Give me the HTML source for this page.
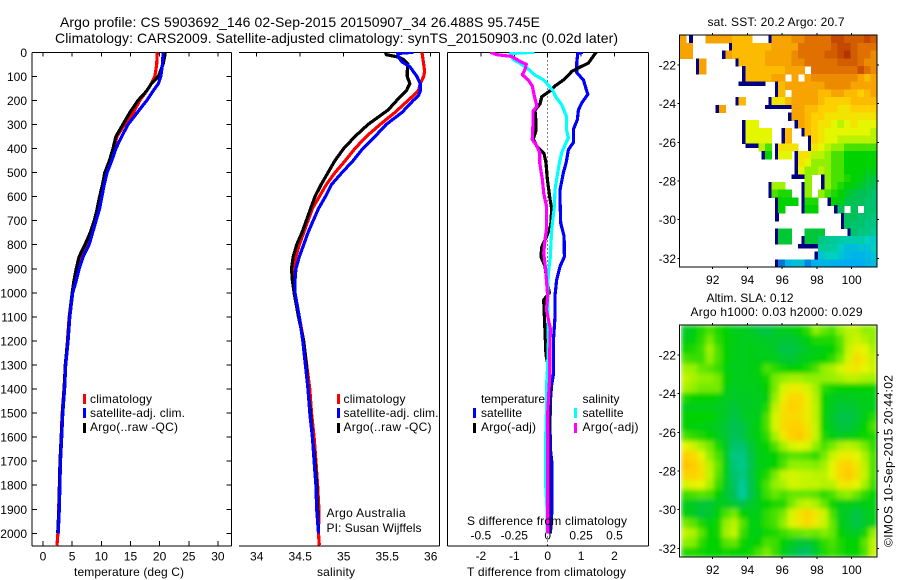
<!DOCTYPE html>
<html lang="en">
<head>
<meta charset="utf-8">
<title>Argo profile</title>
<style>
html,body{margin:0;padding:0;background:#fff;}
svg{display:block;}
text{font-family:"Liberation Sans",Arial,sans-serif;font-size:12px;fill:#000;}
.t14{font-size:14px;}
</style>
</head>
<body>
<svg id="fig" xmlns="http://www.w3.org/2000/svg" width="900" height="580" viewBox="0 0 900 580">
  <rect x="0" y="0" width="900" height="580" fill="#fff"/>
  <defs>
    <filter id="slaBlur" filterUnits="userSpaceOnUse" x="681" y="325" width="196" height="232">
      <feGaussianBlur stdDeviation="2.4" edgeMode="duplicate"/>
    </filter>
    <clipPath id="slaClip"><rect x="681" y="325" width="196" height="232"/></clipPath>
    <clipPath id="p1Clip"><rect x="32" y="52" width="200" height="494"/></clipPath>
    <clipPath id="p2Clip"><rect x="239" y="52" width="201" height="494"/></clipPath>
    <clipPath id="p3Clip"><rect x="447" y="52" width="202" height="494"/></clipPath>
  </defs>

  <text class="t14" x="60" y="27" textLength="480" lengthAdjust="spacing">Argo profile: CS 5903692_146 02-Sep-2015 20150907_34 26.488S 95.745E</text>
  <text class="t14" x="55" y="43" textLength="563" lengthAdjust="spacing">Climatology: CARS2009. Satellite-adjusted climatology: synTS_20150903.nc (0.02d later)</text>

  <g id="maps"></g>
  <g id="panels"></g>

  <text x="74" y="576" textLength="110" lengthAdjust="spacing">temperature (deg C)</text>
  <text x="317" y="576" textLength="38" lengthAdjust="spacing">salinity</text>
  <text x="467" y="576" textLength="159" lengthAdjust="spacing">T difference from climatology</text>
  <text x="467" y="525" textLength="160" lengthAdjust="spacing">S difference from climatology</text>

  <g>
    <rect x="83" y="394" width="3" height="10" fill="#f00"/>
    <text x="90" y="403" textLength="62" lengthAdjust="spacing">climatology</text>
    <rect x="83" y="408" width="3" height="10" fill="#00f"/>
    <text x="90" y="417" textLength="95" lengthAdjust="spacing">satellite-adj. clim.</text>
    <rect x="83" y="423" width="3" height="10" fill="#000"/>
    <text x="90" y="431" textLength="88" lengthAdjust="spacing">Argo(..raw -QC)</text>
  </g>
  <g>
    <rect x="337" y="394" width="3" height="10" fill="#f00"/>
    <text x="343.5" y="403" textLength="62" lengthAdjust="spacing">climatology</text>
    <rect x="337" y="408" width="3" height="10" fill="#00f"/>
    <text x="343.5" y="417" textLength="95" lengthAdjust="spacing">satellite-adj. clim.</text>
    <rect x="337" y="423" width="3" height="10" fill="#000"/>
    <text x="343.5" y="431" textLength="88" lengthAdjust="spacing">Argo(..raw -QC)</text>
  </g>
  <text x="326.5" y="517" textLength="79" lengthAdjust="spacing">Argo Australia</text>
  <text x="326.5" y="532" textLength="95" lengthAdjust="spacing">PI: Susan Wijffels</text>

  <g>
    <text x="481" y="403" textLength="64" lengthAdjust="spacing">temperature</text>
    <rect x="473" y="408" width="3" height="10" fill="#00f"/>
    <text x="481" y="417" textLength="41" lengthAdjust="spacing">satellite</text>
    <rect x="473" y="423" width="3" height="10" fill="#000"/>
    <text x="481" y="431" textLength="55" lengthAdjust="spacing">Argo(-adj)</text>
    <text x="582.5" y="403" textLength="37" lengthAdjust="spacing">salinity</text>
    <rect x="574" y="408" width="3" height="10" fill="#0ff"/>
    <text x="582.5" y="417" textLength="41" lengthAdjust="spacing">satellite</text>
    <rect x="574" y="423" width="3" height="10" fill="#f0f"/>
    <text x="582.5" y="431" textLength="56" lengthAdjust="spacing">Argo(-adj)</text>
  </g>

  <text x="707.5" y="26" textLength="137" lengthAdjust="spacing">sat. SST: 20.2 Argo: 20.7</text>
  <text x="706.5" y="302" textLength="87" lengthAdjust="spacing">Altim. SLA: 0.12</text>
  <text x="690.5" y="316" textLength="172" lengthAdjust="spacing">Argo h1000: 0.03 h2000: 0.029</text>
  <text transform="translate(892.5,547) rotate(-90)" x="0" y="0" textLength="172" lengthAdjust="spacing">©IMOS 10-Sep-2015 20:44:02</text>
</svg>

<script>
/* ---------- axis tick values ---------- */
const depthTicks = [0,100,200,300,400,500,600,700,800,900,1000,1100,1200,1300,1400,1500,1600,1700,1800,1900,2000];
const tempTicks = [0,5,10,15,20,25,30];
const salTicks = [34,34.5,35,35.5,36];
const tDiffTicks = [-2,-1,0,1,2];
const sDiffTicks = [-0.5,-0.25,0,0.25,0.5];
const sDiffTickLabels = ['-0.5','-0.25','0','0.25','0.5'];
const lonTicks = [92,94,96,98,100];
const latTicks = [-22,-24,-26,-28,-30,-32];

/* ---------- temperature profiles ---------- */
const tempDepths = [0,50,100,130,160,200,250,300,350,400,450,500,550,600,650,700,750,800,850,900,950,1000,1100,1200,1300,1400,1500,1600,1700,1800,1900,2000,2050];
const tempClim = [19.6,19.5,19.2,18.6,17.8,16.6,15.5,14,12.7,12.2,11.5,10.8,10.3,9.8,9.5,8.9,8.3,7.6,6.6,5.9,5.4,5,4.5,4.2,3.85,3.6,3.3,3.12,2.92,2.82,2.7,2.55,2.4];
const tempArgo = [21,20.6,19.8,18.6,17.8,16.3,14.9,13.7,12.5,12,11.4,10.6,10.2,9.7,9.3,8.8,8.1,7.2,6.2,5.7,5.3,5,4.52,4.22,3.82,3.62,3.32,3.12,2.92,2.82,2.72,2.52];
const tempSat = [20.6,20.5,20.2,19.8,18.9,17.8,16.2,14.6,13.5,12.5,11.8,11,10.5,10.1,9.7,9.1,8.5,7.9,6.9,6.2,5.7,5.1,4.6,4.3,3.9,3.7,3.4,3.2,3,2.9,2.8,2.6];

/* ---------- salinity profiles ---------- */
const salClimDepths = [0,50,80,100,130,160,200,250,300,350,400,450,500,550,600,650,700,750,800,850,900,950,1000,1100,1200,1300,1400,1500,1600,1700,1800,1900,2000,2050];
const salClim = [35.9,35.92,35.93,35.92,35.88,35.86,35.74,35.59,35.42,35.26,35.13,35.02,34.9,34.8,34.72,34.64,34.59,34.54,34.49,34.45,34.43,34.43,34.44,34.49,34.54,34.575,34.61,34.63,34.66,34.68,34.7,34.715,34.71,34.72];
const salArgoDepths = [0,10,20,30,50,80,100,130,160,200,240,300,350,400,450,500,550,600,650,700,750,800,850,900,950,1000,1100,1200,1300,1400,1500,1600,1700,1800,1900,2000];
const salArgo = [35.48,35.49,35.63,35.69,35.74,35.73,35.73,35.76,35.72,35.61,35.51,35.28,35.13,35,34.9,34.82,34.74,34.67,34.62,34.57,34.52,34.46,34.42,34.4,34.41,34.43,34.48,34.54,34.57,34.59,34.62,34.64,34.67,34.69,34.7,34.71];
const salSatDepths = [0,5,20,40,60,80,100,130,160,180,200,250,300,350,400,450,500,550,600,650,700,750,800,850,900,950,1000,1100,1200,1300,1400,1500,1600,1700,1800,1900,2000];
const salSat = [35.8,35.62,35.63,35.67,35.76,35.8,35.84,35.88,35.88,35.86,35.8,35.67,35.49,35.36,35.22,35.11,34.98,34.86,34.79,34.71,34.65,34.59,34.54,34.49,34.45,34.44,34.44,34.49,34.53,34.56,34.59,34.61,34.64,34.66,34.68,34.69,34.71];

/* ---------- difference profiles ---------- */
const tDiffSatDepths = [0,5,40,85,115,175,210,240,280,320,375,405,460,500,570,625,710,765,850,890,945,1010,1100,1200,1280,1340,1380,1450,1550,1650,1700,1800,1900,2000];
const tDiffSat = [1.05,0.9,0.87,0.87,1.07,1.2,1.02,0.92,0.89,0.77,0.77,0.62,0.55,0.47,0.37,0.37,0.39,0.49,0.5,0.37,0.27,0.22,0.22,0.17,0.17,0.17,0.12,0.08,0.07,0.08,0.12,0.13,0.13,0.08];
const tDiffArgoDepths = [0,15,45,65,80,95,115,140,155,185,215,240,290,330,360,390,420,460,530,610,650,720,765,810,850,890,945,1000,1030,1100,1200,1260,1340,1400,1500,1700,1900,2000];
const tDiffArgo = [1.45,1.37,1.22,0.92,0.72,0.62,0.47,0.22,0.12,-0.18,-0.23,-0.38,-0.35,-0.36,-0.43,-0.33,-0.11,-0.05,-0.01,0.07,0.12,0.09,-0.03,-0.18,-0.2,-0.08,-0.03,0.05,-0.12,-0.1,-0.07,-0.05,0.07,0.06,0.05,0.03,0.04,0.05];
const sDiffSatDepths = [0,5,30,45,70,95,115,140,160,185,218,266,321,356,384,418,460,516,570,640,737,790,848,917,987,1070,1200,1300,1400,1500,1600,1700,1800,1900,2000];
const sDiffSat = [-0.1,-0.28,-0.26,-0.21,-0.145,-0.095,-0.03,0.01,0.04,0.06,0.105,0.14,0.14,0.155,0.13,0.105,0.0875,0.07,0.055,0.05,0.03,0.025,0.02,0.005,0,0,0.005,0,-0.01,-0.01,-0.015,-0.015,-0.015,-0.005,-0.005];
const sDiffArgoDepths = [0,10,17,37,50,72,93,115,140,182,225,245,295,363,390,418,460,530,585,640,737,780,835,905,945,1015,1070,1150,1250,1350,1500,1600,1750,1900,2000];
const sDiffArgo = [-0.43,-0.38,-0.27,-0.21,-0.16,-0.17,-0.19,-0.145,-0.115,-0.1,-0.08,-0.11,-0.11,-0.115,-0.08,-0.06,-0.06,-0.04,-0.03,-0.01,-0.01,-0.02,-0.03,-0.015,-0.01,0,-0.01,0.02,0.015,0.015,0,0,0,0,0];

/* ---------- map grids (colour-scale levels, null = no data, 0 = navy edge) ---------- */
const _ = null;
const sstGrid = [
[8,0,_,_,8,8,8,8,7.5,7.5,7.5,_,_,0,8,8,8,8.5,8.5,9,9,9,9,10,10,9.5,9.5,9.5,10,9.5],
[8,8,_,_,_,_,_,0,7.5,7.5,7.5,7.5,7.5,7.5,8,8,8,8,9,9,9,9,9,9.5,10,10,9.5,9,9,9],
[8,8,_,_,_,_,0,8,7.5,7.5,7.5,7.5,7.5,8,8,8,8,8.5,9,9,9,9,9.5,9.5,10,10.5,9.5,9,9,8.5],
[_,_,0,8,_,_,_,_,0,7.5,7.5,7.5,7.5,8,8,8,8,8.5,8.5,9,9,9,9,9,9.5,9.5,9.5,9,8.5,8.5],
[_,_,0,8,_,_,_,_,_,0,7.5,7.5,7.5,7.5,7.5,7.5,8,8,8,_,9,9,9,9,9,9,9,9.8,9,8.5],
[_,_,_,_,_,_,_,_,_,0,7.5,7.5,7.5,7.5,8,8,_,8,_,8,8.5,8.5,8.5,8.5,8.5,8.5,8.5,8,7.5,8],
[_,_,_,_,_,_,_,_,_,0,0,0,0,_,0,7.5,8,8,8,8,8,8,8.5,8.5,8.5,8.5,8,8,8,8],
[_,_,_,_,_,_,_,_,_,_,_,_,_,_,0,7.5,_,8,8,8,8,7.5,7.5,8,8,7.5,7.5,7,7.5,8],
[_,_,_,_,_,_,_,_,0,7.5,_,_,_,0,6.5,6.5,7.5,8,8,8,8,7.5,7,7,7,7,7.5,7.5,7.5,7.5],
[_,_,_,_,_,0,8,_,_,_,_,_,_,0,0,0,0,8,8,7.5,7.5,7,7,7,6.5,6.5,7,7,7,7],
[_,_,_,_,_,_,_,_,_,_,_,_,_,_,_,_,0,8,8,7.5,7,7,6.5,6.5,6.5,6.5,6.5,6.5,6.5,6.5],
[_,_,_,_,_,_,_,_,_,0,6,6,_,_,_,_,_,0,8,7.5,7,6.5,6.5,6,5.5,6,6.5,6,6,6],
[_,_,_,_,_,_,_,_,_,0,6,6,6,6,_,0,7.5,_,0,7.5,7,6.5,6,6,6,6,6,6,6,5.5],
[_,_,_,_,_,_,_,_,_,0,6,6,6,6,_,0,7.5,_,_,0,7,6.5,6,6,5.5,5.5,5.5,5.5,5.5,5.5],
[_,_,_,_,_,_,_,_,_,_,0,0,5.5,4.5,0,6.5,6.5,6.5,_,0,6.5,6,5.5,5,5,4.5,4.5,4.5,4.5,4.5],
[_,_,_,_,_,_,_,_,_,_,_,_,0,4,0,6,6,0,6.5,6.5,5.5,5.5,5,4.5,4.5,4,4,4,4,4],
[_,_,_,_,_,_,_,_,_,_,_,_,_,_,_,_,_,0,6.5,6,5,5,5,4.5,4.5,4,4,4,4,4],
[_,_,_,_,_,_,_,_,_,_,_,_,_,_,_,_,_,0,6,5,5,5.5,5,4.5,4.5,4,4,4,3.8,3.8],
[_,_,_,_,_,_,_,_,_,_,_,_,_,_,_,_,_,0,0,5,_,0,5,4.5,4.5,4.2,4,3.8,3.5,3.3],
[_,_,_,_,_,_,_,_,_,_,_,_,_,0,5.2,5.2,_,_,0,5,_,0,5,4.5,4.2,4,3.8,3.5,3.2,3],
[_,_,_,_,_,_,_,_,_,_,_,_,_,0,4.5,4.2,4.2,_,0,5,_,5,4.5,4.2,4,3.5,3.2,3,3,2.8],
[_,_,_,_,_,_,_,_,_,_,_,_,_,_,0,4,4,4,0,4.2,4.2,_,0,4,3.8,3.2,3,3,2.8,2.8],
[_,_,_,_,_,_,_,_,_,_,_,_,_,_,0,4,_,_,0,4,4,_,_,0,3,_,3,_,2.8,2.8],
[_,_,_,_,_,_,_,_,_,_,_,_,_,_,0,_,_,_,_,_,_,_,_,_,0,3,3,2.8,2.8,2.6],
[_,_,_,_,_,_,_,_,_,_,_,_,_,_,_,_,_,_,_,_,_,_,_,_,0,3,2.8,2.8,2.6,2.6],
[_,_,_,_,_,_,_,_,_,_,_,_,_,_,0,3.4,3.4,_,_,3.4,3.4,3.4,_,_,_,0,2.8,2.6,2.6,2.4],
[_,_,_,_,_,_,_,_,_,_,_,_,_,_,0,3.4,3.4,_,0,3.4,3.4,2.6,2.5,2.4,2.3,2.2,2.2,2.2,2,1.8],
[_,_,_,_,_,_,_,_,_,_,_,_,_,_,_,_,_,_,0,0,0,2.4,2.4,2.3,1.9,1.5,1.5,1.7,1.6,2],
[_,_,_,_,_,_,_,_,_,_,_,_,_,_,_,_,_,_,_,_,0,1.7,2,2,1.7,1.4,1.3,1.3,1.4,1.7],
[_,_,_,_,_,_,_,_,_,_,_,_,_,_,0,0.7,1.3,1.6,1.6,0.8,1.2,1.3,1.3,1.2,1.2,1.1,1.1,1.1,1.3,1.5]
];
const slaGrid = [
[3.6,3.8,4.2,4.5,4.2,4,3.7,3.7,3.6,3.3,3.2,3.5,3.7,3.8,4,4.3,5,4.7,4.5,5,5.5,5.5,5,5],
[3.8,3.9,4.3,4.8,4.3,4,3.8,3.7,3.7,3.6,3.5,3.5,3.4,3.4,3.6,3.9,4.2,4.2,4.2,4.6,5.4,5.7,5.4,5],
[4.1,4.2,4.4,5.2,4.5,4,3.8,3.7,3.8,3.7,3.7,3.5,3.2,3.2,3.4,3.6,3.8,3.9,4,4.5,5.6,6.2,6,5.3],
[4.5,4.4,4.4,5,4.5,4,3.8,3.7,3.8,3.8,3.8,3.7,3.5,3.4,3.6,3.8,3.9,4,4.3,4.8,5.8,6.7,6.3,5.6],
[5.2,5.1,4.7,4.6,4.4,3.9,3.7,3.7,3.8,3.9,4.5,4.3,4.1,4,4,4.2,4.5,5,5.3,5.8,6.2,6.4,6,5.7],
[5.6,5.3,5,5,4.8,4,3.7,3.7,3.8,3.9,4.1,4.8,5,5.2,5.2,5,5,5,5.1,5.3,5.5,5.5,5.3,5.2],
[5.3,5,4.8,4.8,4.8,3.9,3.6,3.7,3.7,3.8,4,4.8,5.8,6.3,6.2,5.8,5.2,4.3,4.1,4,4,4,4,4],
[4.2,4,4,4,3.9,3.7,3.5,3.6,3.6,3.7,3.8,5,6.2,6.8,6.8,6.2,5.4,4,3.7,3.6,3.6,3.7,3.8,3.8],
[3.8,3.8,3.8,3.8,3.7,3.5,3.4,3.5,3.6,3.7,4.2,5.5,6.5,7,6.8,6.3,5.5,4,3.6,3.4,3.4,3.5,3.7,3.8],
[4,4,4,4,3.8,3.5,3.2,3.5,3.7,3.8,4.5,5.8,6.6,6.8,6.7,6.3,5.5,4,3.5,3.2,3.2,3.4,3.8,4.2],
[4,3.9,3.9,3.8,3.6,3.4,3,3.2,3.6,3.9,4.5,5.8,6.7,7,7,6.5,5.6,4,3.6,3.3,3.3,3.6,4,4.5],
[4.5,4.3,4.2,4,3.7,3.4,3,3.2,3.6,3.9,4.3,5.2,6.3,7,7.2,6.6,5.6,4.2,3.8,3.7,3.8,3.9,4.1,4.2],
[6,5.7,5.2,4.8,4.2,3.6,2.8,2.8,3.4,3.8,4,4.5,5.2,5.8,6,5.8,5,4.5,4.8,5.3,5.5,5.3,4.8,4.3],
[7,6.8,6,5,4.5,3.7,2.6,2.6,3.2,3.8,3.9,4,4.4,4.6,4.6,4.5,4.3,4.8,5.6,6.2,6.3,6,5.3,4.5],
[7.3,7.1,6.5,5.5,4.7,3.8,2.7,2.5,3.2,3.8,3.9,4,4.5,5,5,5,4.9,5.2,6,6.8,7,6.4,5.5,4.5],
[6.9,7,6.6,5.6,4.6,3.7,2.8,2.6,3.2,3.9,4.2,4.8,5.6,5.8,5.7,5.6,5.5,5.5,6,6.8,7.2,6.6,5.6,4.5],
[5.8,6.1,6,5.3,4.4,3.6,2.9,2.4,3.1,3.9,4.5,5,5.3,5.8,5.7,5.6,5.6,5.4,5.5,6.3,6.4,6,5.2,4.4],
[4.4,4.5,4.6,4.5,4,3.5,3,2.3,3.1,3.8,4.4,4.7,4.5,4.7,4.7,4.7,4.6,4.3,4.5,4.9,5,4.7,4.3,4],
[3.8,3.6,3.4,3.4,3.7,3.6,3.4,3.2,3.5,3.8,4,4.2,4.2,4.8,5.4,5.6,5.3,4.7,4.1,3.8,3.8,3.7,3.8,3.9],
[3.9,3.6,3.3,3.5,3.9,4.5,4.8,4,3.8,3.8,4.3,4.5,4.8,5.8,6.5,6.9,6.4,5.7,4.5,3.7,3.5,3.2,3.5,3.8],
[4.8,4.6,4.2,3.9,4.1,5,5.5,4.6,3.9,3.9,4.3,4.5,5,5.9,6.4,6.7,6.3,5.7,4.7,3.8,3.5,3.2,3.5,3.8],
[5.6,5.3,4.6,4,4.1,5.2,5.6,4.4,3.9,3.8,4.1,4.2,4.4,4.6,4.7,4.8,4.7,4.9,4.7,4,3.7,3.6,4.1,5],
[5,4.9,4.3,4,4,4.6,4.7,4.1,3.9,4,4.5,4.4,4,3.6,3.4,3.4,3.8,4.3,4.5,4.2,4,4,4.6,5.5],
[4.2,4.2,4.1,4,4,4.1,4,4,4.1,4.5,4.8,4.4,3.8,3.4,3,2.9,3.5,4.2,4.4,4.2,4,4,4.5,5.6]
];
const colourScale = ['#000080','#00a8f8','#00d0c0','#00c058','#00d200','#90f000','#e4f600','#ffd000','#f8a400','#e07000','#c44800','#a02000'];

/* ---------- axis functions ---------- */
function yDepth(d){ return 52.3 + 0.2405 * d; }
function xTemp(v){ return 43 + 5.83 * v; }
function xSal(s){ return 256.7 + 87 * (s - 34); }
function xTDiff(t){ return 547.7 + 33.4 * t; }
function xSDiff(s){ return 547.7 + 133.6 * s; }
function lonX(lon){ return 712.7 + 17.375 * (lon - 92); }
function latYSst(lat){ return 65 + 19.33 * (-22 - lat); }
function latYSla(lat){ return 355 + 19.33 * (-22 - lat); }

const NS = 'http://www.w3.org/2000/svg';
function make(tag, parent, attrs, txt){
  const el = document.createElementNS(NS, tag);
  for (const k in attrs) el.setAttribute(k, attrs[k]);
  if (txt !== undefined) el.textContent = txt;
  parent.appendChild(el);
  return el;
}
function line(parent, name, x1, y1, x2, y2){
  const el = make('line', parent, {x1:x1, y1:y1, x2:x2, y2:y2, stroke:'#000', 'stroke-width':1, 'shape-rendering':'crispEdges'});
  
  
  return el;
}
function label(parent, name, x, y, anchor, txt){
  const el = make('text', parent, {x:x, y:y, 'text-anchor':anchor}, txt);
  
  
  return el;
}
function profile(parent, name, depths, values, xFn, colour){
  let d = '';
  for (let i = 0; i < values.length; i++) {
    d += (i ? 'L' : 'M') + xFn(values[i]).toFixed(1) + ' ' + yDepth(depths[i]).toFixed(1);
  }
  const el = make('path', parent, {d:d, fill:'none', stroke:colour, 'stroke-width':3.2, 'stroke-linejoin':'round', 'shape-rendering':'crispEdges'});
  
  
  return el;
}
function colourFor(v){
  const i = Math.max(0, Math.min(colourScale.length - 2, Math.floor(v)));
  const f = Math.max(0, Math.min(1, v - i));
  const a = colourScale[i], b = colourScale[i + 1];
  const ch = function(s, p){ return parseInt(s.substr(p, 2), 16); };
  const mix = function(p){ return Math.round(ch(a, p) + (ch(b, p) - ch(a, p)) * f); };
  return 'rgb(' + mix(1) + ',' + mix(3) + ',' + mix(5) + ')';
}

/* ---------- profile panels ---------- */
const panels = document.getElementById('panels');
const top_ = 52.3, bottom_ = 546;

/* panel 1: temperature */
const p1 = make('g', panels, {});


line(p1, 'temperature-top-axis', 32, top_, 231.5, top_);
line(p1, 'temperature-bottom-axis', 32, bottom_, 231.5, bottom_);
line(p1, 'depth-axis', 32, top_, 32, bottom_);
line(p1, 'temperature-right-axis', 231.5, top_, 231.5, bottom_);
depthTicks.forEach(function(d){
  line(p1, 'depth-tick-left', 32, yDepth(d), 37, yDepth(d));
  line(p1, 'depth-tick-right', 226.5, yDepth(d), 231.5, yDepth(d));
  label(p1, 'depth-tick-label', 27, yDepth(d) + 4.5, 'end', String(d));
});
tempTicks.forEach(function(v){
  line(p1, 'temperature-tick-top', xTemp(v), top_, xTemp(v), top_ + 4);
  line(p1, 'temperature-tick-bottom', xTemp(v), bottom_, xTemp(v), bottom_ - 5);
  label(p1, 'temperature-tick-label', xTemp(v), 560.5, 'middle', String(v));
});
const p1Lines = make('g', p1, {'clip-path':'url(#p1Clip)'});


profile(p1Lines, 'temperature-climatology-line', tempDepths, tempClim, xTemp, '#f00');
profile(p1Lines, 'temperature-argo-line', tempDepths, tempArgo, xTemp, '#000');
profile(p1Lines, 'temperature-satellite-line', tempDepths, tempSat, xTemp, '#00f');

/* panel 2: salinity */
const p2 = make('g', panels, {});


line(p2, 'salinity-top-axis', 239, top_, 439.5, top_);
line(p2, 'salinity-bottom-axis', 239, bottom_, 439.5, bottom_);
line(p2, 'salinity-right-axis', 439.5, top_, 439.5, bottom_);
salTicks.forEach(function(v){
  line(p2, 'salinity-tick-top', xSal(v), top_, xSal(v), top_ + 4);
  label(p2, 'salinity-tick-label', xSal(v), 560.5, 'middle', String(v));
});
const p2Lines = make('g', p2, {'clip-path':'url(#p2Clip)'});


profile(p2Lines, 'salinity-climatology-line', salClimDepths, salClim, xSal, '#f00');
profile(p2Lines, 'salinity-argo-line', salArgoDepths, salArgo, xSal, '#000');
profile(p2Lines, 'salinity-satellite-line', salSatDepths, salSat, xSal, '#00f');

/* panel 3: differences */
const p3 = make('g', panels, {});


line(p3, 'difference-top-axis', 447.5, top_, 648.7, top_);
line(p3, 'difference-bottom-axis', 447.5, bottom_, 648.7, bottom_);
line(p3, 'difference-left-axis', 447.5, top_, 447.5, bottom_);
line(p3, 'difference-right-axis', 648.7, top_, 648.7, bottom_);
tDiffTicks.forEach(function(v){
  line(p3, 'difference-tick-top', xTDiff(v), top_, xTDiff(v), top_ + 4);
  label(p3, 't-difference-tick-label', xTDiff(v), 560, 'middle', String(v));
});
sDiffTicks.forEach(function(v, i){
  label(p3, 's-difference-tick-label', xSDiff(v), 539.5, 'middle', sDiffTickLabels[i]);
});
const zero = make('line', p3, {x1:xTDiff(0), y1:top_, x2:xTDiff(0), y2:bottom_, stroke:'#000', 'stroke-width':1, 'stroke-dasharray':'1 3', 'shape-rendering':'crispEdges'});


const p3Lines = make('g', p3, {'clip-path':'url(#p3Clip)'});


profile(p3Lines, 't-difference-satellite-line', tDiffSatDepths, tDiffSat, xTDiff, '#00f');
profile(p3Lines, 't-difference-argo-line', tDiffArgoDepths, tDiffArgo, xTDiff, '#000');
profile(p3Lines, 's-difference-satellite-line', sDiffSatDepths, sDiffSat, xSDiff, '#0ff');
profile(p3Lines, 's-difference-argo-line', sDiffArgoDepths, sDiffArgo, xSDiff, '#f0f');

/* ---------- maps ---------- */
const maps = document.getElementById('maps');
const lonMin = 90.08, lonMax = 101.46, latMax = -20.46, latMin = -32.45;

function drawCells(parent, grid, cellName, yFn, lon0){
  const rows = grid.length, cols = grid[0].length;
  const dLon = (lonMax - lon0) / cols, dLat = (latMax - latMin) / rows;
  grid.forEach(function(row, r){
    row.forEach(function(v, c){
      if (v === null) return;
      let x0 = lonX(lon0 + c * dLon), x1 = lonX(lon0 + (c + 1) * dLon);
      let y0 = yFn(latMax - r * dLat), y1 = yFn(latMax - (r + 1) * dLat);
      if (v === 0) {
        /* navy edge cells are thin: a horizontal run keeps the top half, a lone cell keeps the right half */
        if (row[c - 1] === 0 || row[c + 1] === 0) y1 = (y0 + y1) / 2;
        else x0 = (x0 + x1) / 2;
      }
      const cell = make('rect', parent, {x:x0.toFixed(2), y:y0.toFixed(2), width:(x1 - x0 + 0.6).toFixed(2), height:(y1 - y0 + 0.6).toFixed(2), fill:colourFor(v)});
      
      
    });
  });
}
function mapFrame(parent, prefix, yFn){
  const xL = lonX(lonMin), xR = lonX(lonMax), yT = yFn(latMax), yB = yFn(latMin);
  const tickY = (yFn === latYSst) ? 284 : 574;
  const box = make('rect', parent, {x:xL, y:yT, width:xR - xL, height:yB - yT, fill:'none', stroke:'#000', 'stroke-width':1, 'shape-rendering':'crispEdges'});
  
  
  lonTicks.forEach(function(l){
    line(parent, prefix + '-lon-tick', lonX(l), yT, lonX(l), yT - 2);
    line(parent, prefix + '-lon-tick', lonX(l), yB, lonX(l), yB + 2);
    label(parent, prefix + '-lon-tick-label', lonX(l), tickY, 'middle', String(l));
  });
  latTicks.forEach(function(l){
    line(parent, prefix + '-lat-tick', xL, yFn(l), xL - 2, yFn(l));
    line(parent, prefix + '-lat-tick', xR, yFn(l), xR + 2, yFn(l));
    label(parent, prefix + '-lat-tick-label', 676, yFn(l) + 4.5, 'end', String(l));
  });
}

const sstMap = make('g', maps, {});


const sstCells = make('g', sstMap, {'shape-rendering':'crispEdges'});


drawCells(sstCells, sstGrid, 'sst-cell', latYSst, lonMin);
mapFrame(sstMap, 'sst', latYSst);

const slaMap = make('g', maps, {});


const slaClipG = make('g', slaMap, {'clip-path':'url(#slaClip)'});


const slaCells = make('g', slaClipG, {filter:'url(#slaBlur)'});


drawCells(slaCells, slaGrid, 'sla-cell', latYSla, lonMin + 0.1);
mapFrame(slaMap, 'sla', latYSla);
</script>
</body>
</html>
